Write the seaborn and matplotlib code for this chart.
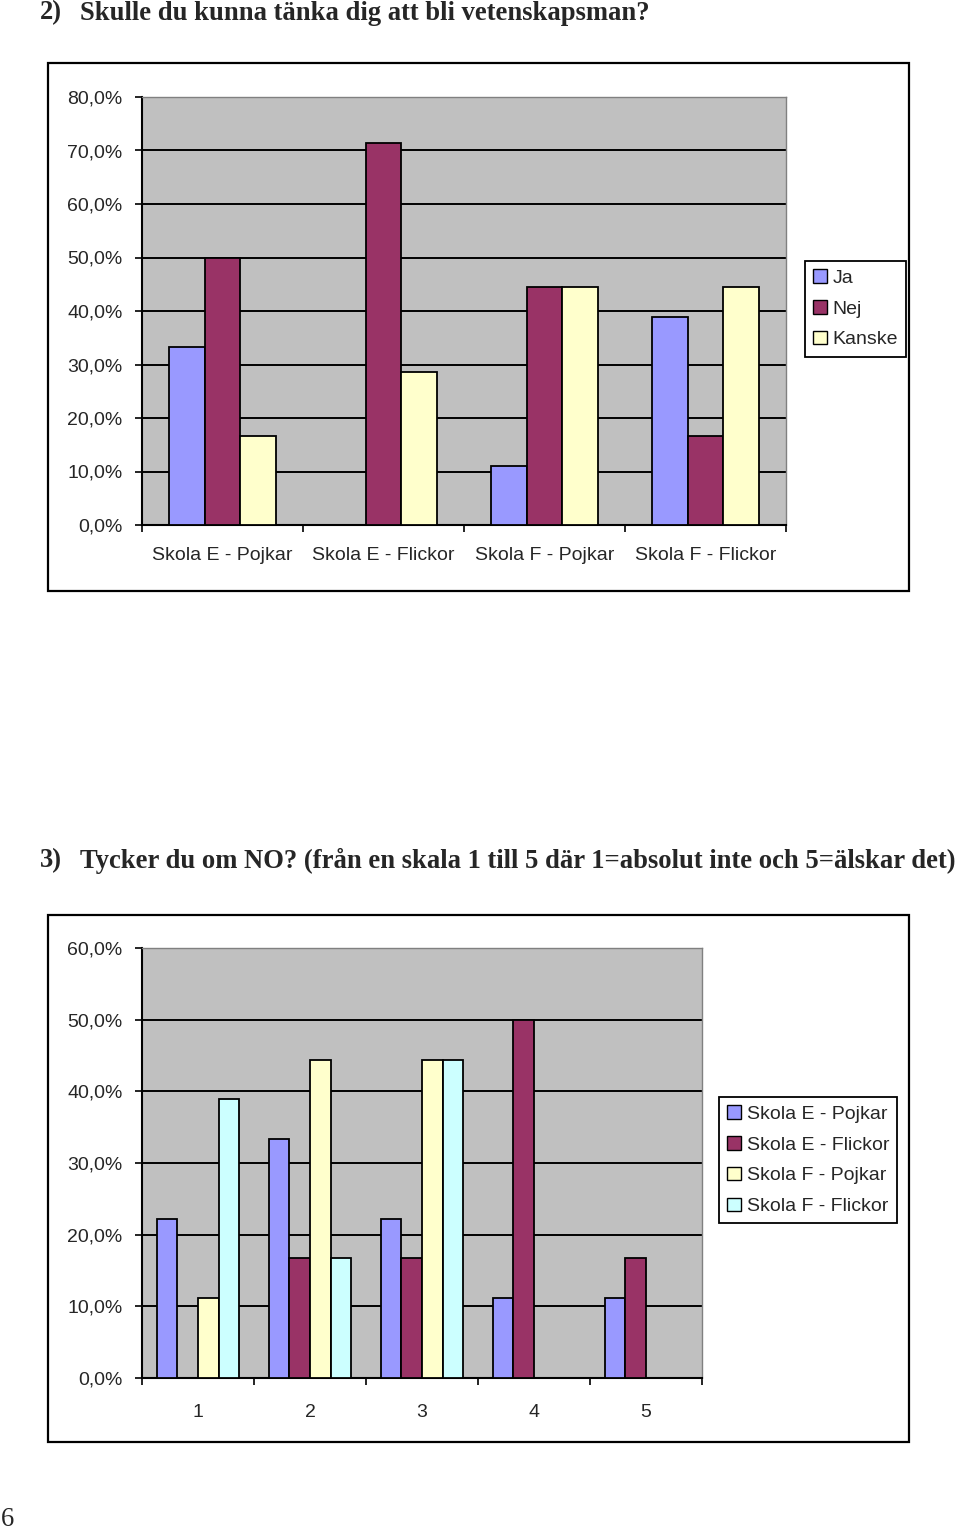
import numpy as np
import pandas as pd
import seaborn as sns
import matplotlib
matplotlib.use("Agg")
import matplotlib.pyplot as plt
from matplotlib.patches import Rectangle, Patch
from matplotlib.ticker import FuncFormatter, FixedLocator

# ---------------- data ----------------
groups1 = ["Skola E - Pojkar", "Skola E - Flickor", "Skola F - Pojkar", "Skola F - Flickor"]
series1 = ["Ja", "Nej", "Kanske"]
ja = [33.3, 0.0, 11.1, 38.9]
nej = [50.0, 71.4, 44.4, 16.7]
kanske = [16.7, 28.6, 44.4, 44.4]
yticks1 = [0, 10, 20, 30, 40, 50, 60, 70, 80]

groups2 = ["1", "2", "3", "4", "5"]
series2 = ["Skola E - Pojkar", "Skola E - Flickor", "Skola F - Pojkar", "Skola F - Flickor"]
e_pojkar = [22.2, 33.3, 22.2, 11.1, 11.1]
e_flickor = [0.0, 16.7, 16.7, 50.0, 16.7]
f_pojkar = [11.1, 44.4, 44.4, 0.0, 0.0]
f_flickor = [38.9, 16.7, 44.4, 0.0, 0.0]
yticks2 = [0, 10, 20, 30, 40, 50, 60]

title1_num = "2)"
title1 = "Skulle du kunna tänka dig att bli vetenskapsman?"
title2_num = "3)"
title2 = "Tycker du om NO? (från en skala 1 till 5 där 1=absolut inte och 5=älskar det)"
page_no = "6"

colors1 = ["#9999FF", "#993366", "#FFFFCC"]
colors2 = ["#9999FF", "#993366", "#FFFFCC", "#CCFFFF"]

df1 = pd.DataFrame({
    "group": np.repeat(groups1, len(series1)),
    "series": series1 * len(groups1),
    "value": np.array([ja, nej, kanske]).T.ravel(),
})
df2 = pd.DataFrame({
    "group": np.repeat(groups2, len(series2)),
    "series": series2 * len(groups2),
    "value": np.array([e_pojkar, e_flickor, f_pojkar, f_flickor]).T.ravel(),
})

# ---------------- figure ----------------
sns.set_style("white")
plt.rcParams["font.family"] = ["Liberation Sans", "DejaVu Sans"]

W, H = 960, 1532
fig = plt.figure(figsize=(W / 100, H / 100), dpi=100)
fig.patch.set_facecolor("white")


def fx(px):
    return px / W


def fy(py):
    return 1 - py / H


def box(x0, y0, x1, y1):
    fig.add_artist(Rectangle((fx(x0), fy(y1)), fx(x1 - x0), (y1 - y0) / H,
                             transform=fig.transFigure, fill=False,
                             ec="black", lw=1.6, zorder=0))


pct = FuncFormatter(lambda v, p: f"{v:.1f}%".replace(".", ","))
serif = ["Liberation Serif", "DejaVu Serif"]
TICK_FS = 14
LEG_FS = 14


def style_axes(ax, data, groups, yticks, ymax, colors, series, width, legend_xy, legend_spacing):
    sns.barplot(data=data, x="group", y="value", hue="series", order=groups,
                hue_order=series, palette=colors, width=width, edgecolor="black",
                linewidth=1.3, saturation=1, ax=ax, legend=False, zorder=3)
    n = len(groups)
    ax.set_xlim(-0.5, n - 0.5)
    ax.set_ylim(0, ymax)
    ax.set_facecolor("#C0C0C0")
    ax.set_yticks(yticks)
    ax.yaxis.set_major_formatter(pct)
    ax.grid(axis="y", color="black", lw=1.4, zorder=1)
    ax.set_axisbelow(True)
    ax.set_xlabel("")
    ax.set_ylabel("")
    for s in ["top", "right"]:
        ax.spines[s].set_color("#808080")
        ax.spines[s].set_linewidth(1.0)
    for s in ["left", "bottom"]:
        ax.spines[s].set_color("black")
        ax.spines[s].set_linewidth(1.5)
    ax.tick_params(axis="y", which="major", direction="out", length=5, width=1.2,
                   color="black", pad=9, labelsize=TICK_FS, left=True)
    ax.xaxis.set_minor_locator(FixedLocator(np.arange(-0.5, n, 1.0)))
    ax.tick_params(axis="x", which="major", length=0, pad=16, labelsize=TICK_FS)
    ax.tick_params(axis="x", which="minor", direction="out", length=5, width=1.2,
                   color="black", bottom=True)
    handles = [Patch(facecolor=c, edgecolor="black", lw=1.0) for c in colors]
    leg = ax.legend(handles, series, loc="upper left",
                    bbox_to_anchor=(fx(legend_xy[0]), fy(legend_xy[1])),
                    bbox_transform=fig.transFigure, frameon=True, fancybox=False,
                    edgecolor="black", framealpha=1, fontsize=LEG_FS,
                    handlelength=0.7, handleheight=0.7, handletextpad=0.3,
                    labelspacing=legend_spacing, borderpad=0.42, borderaxespad=0)
    leg.get_frame().set_linewidth(1.3)


# ---------------- titles ----------------
TFS = 19.2
fig.text(fx(40), fy(13), title1_num, family=serif, weight="bold", fontsize=TFS, va="center", ha="left")
fig.text(fx(80), fy(13), title1, family=serif, weight="bold", fontsize=TFS, va="center", ha="left")
fig.text(fx(40), fy(861), title2_num, family=serif, weight="bold", fontsize=TFS, va="center", ha="left")
fig.text(fx(80), fy(861), title2, family=serif, weight="bold", fontsize=TFS, va="center", ha="left")
fig.text(fx(1), fy(1519), page_no, family=serif, fontsize=TFS, va="center", ha="left")

# ---------------- chart 1 ----------------
box(48, 63, 909, 591)
ax1 = fig.add_axes([fx(142), fy(525), fx(786 - 142), (525 - 97) / H])
style_axes(ax1, df1, groups1, yticks1, 80, colors1, series1, 0.67, (805, 261), 0.68)

# ---------------- chart 2 ----------------
box(48, 915, 909, 1442)
ax2 = fig.add_axes([fx(142), fy(1378), fx(702 - 142), (1378 - 948) / H])
style_axes(ax2, df2, groups2, yticks2, 60, colors2, series2, 0.74, (719, 1097), 0.68)
ax2.tick_params(axis="x", which="major", pad=19)

fig.savefig("out.png", dpi=100, facecolor="white")
